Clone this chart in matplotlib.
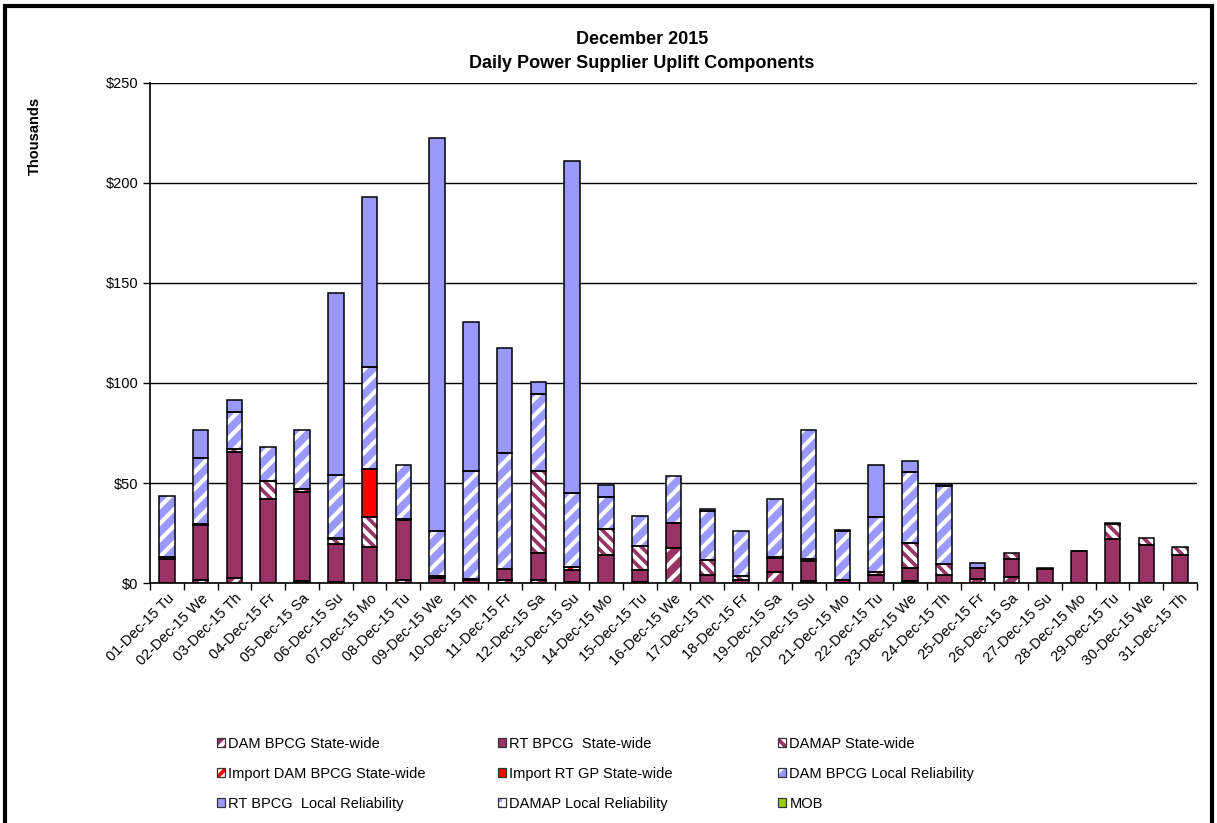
import matplotlib.pyplot as plt
import numpy as np
from matplotlib.legend_handler import HandlerTuple
from matplotlib.patches import Patch, Rectangle
from matplotlib.ticker import FuncFormatter

plt.rcParams["font.family"] = ["Liberation Sans", "DejaVu Sans"]
plt.rcParams["hatch.linewidth"] = 3.0

# 日期標籤（2015/12/01 是星期二）
WEEKDAYS = ["Tu", "We", "Th", "Fr", "Sa", "Su", "Mo"]
days = [f"{d:02d}-Dec-15 {WEEKDAYS[(d - 1) % 7]}" for d in range(1, 32)]

# 各項金額（千元）
dam_bpcg_sw = [0, 1.3, 2.5, 0, 0.8, 0.5, 0, 1.3, 0, 0, 1.7, 1.7, 0.5, 0, 0.5, 17.5,
               0, 0, 5.3, 1.2, 0, 0, 1.2, 0, 2.0, 2.8, 0, 0, 0, 0, 0]
rt_bpcg_sw = [11.8, 27.6, 63.0, 42.2, 44.8, 19.2, 18.0, 30.0, 2.3, 1.7, 5.5, 13.3, 6.2, 14.2, 6.2, 12.3,
              4.2, 1.7, 7.2, 9.6, 1.5, 4.2, 6.3, 4.2, 5.3, 9.2, 7.0, 15.8, 22.2, 18.8, 14.0]
damap_sw = [1.4, 0.6, 1.7, 8.8, 1.2, 2.2, 15.0, 0.5, 1.0, 0.3, 0, 41.2, 0, 12.8, 11.6, 0.3,
            7.5, 1.6, 0.7, 1.2, 0, 1.1, 12.5, 5.3, 0, 2.8, 0.4, 0.4, 7.2, 3.9, 4.0]
import_dam_bpcg_sw = [0, 0, 0, 0, 0, 0.5, 0, 0, 0, 0, 0, 0, 1.1, 0, 0, 0,
                      0, 0, 0, 0, 0, 0, 0, 0, 0, 0, 0, 0, 0.6, 0, 0]
import_rt_gp_sw = [0, 0, 0, 0, 0, 0, 24.0, 0, 0, 0, 0, 0, 0, 0, 0, 0,
                   0, 0, 0, 0, 0, 0, 0, 0, 0, 0, 0, 0, 0, 0, 0]
dam_bpcg_lr = [30.3, 33.0, 18.5, 16.8, 29.7, 31.6, 51.0, 27.0, 22.5, 53.8, 57.8, 38.3, 37.0, 16.2, 15.4, 23.2,
               24.5, 22.9, 28.6, 64.7, 24.3, 27.5, 35.7, 38.8, 0, 0, 0, 0, 0, 0, 0]
rt_bpcg_lr = [0, 14.0, 5.8, 0, 0, 91.0, 85.0, 0, 196.5, 74.5, 52.5, 6.0, 166.0, 6.0, 0, 0,
              1.0, 0, 0, 0, 0.7, 26.4, 5.5, 1.2, 2.9, 0, 0, 0, 0, 0, 0]
damap_lr = [0] * 31
mob = [0] * 31

SERIES = [
    ("DAM BPCG State-wide", dam_bpcg_sw, "#993366", "//"),
    ("RT BPCG  State-wide", rt_bpcg_sw, "#993366", None),
    ("DAMAP State-wide", damap_sw, "#993366", "\\\\\\"),
    ("Import DAM BPCG State-wide", import_dam_bpcg_sw, "#FF0000", "///"),
    ("Import RT GP State-wide", import_rt_gp_sw, "#FF0000", None),
    ("DAM BPCG Local Reliability", dam_bpcg_lr, "#9999FF", "//"),
    ("RT BPCG  Local Reliability", rt_bpcg_lr, "#9999FF", None),
    ("DAMAP Local Reliability", damap_lr, "#9999FF", "++"),
    ("MOB", mob, "#99CC00", None),
]

fig = plt.figure(figsize=(12.17, 8.23), dpi=100)
ax = fig.add_axes([0.1233, 0.2916, 0.8603, 0.6076])

x = np.arange(len(days))
width = 0.46
bottom = np.zeros(len(days))
handles = []
for label, vals, color, hatch in SERIES:
    vals = np.array(vals, dtype=float)
    if hatch:
        ax.bar(x, vals, width, bottom=bottom, color=color, edgecolor="white", hatch=hatch, linewidth=0, zorder=2)
    else:
        ax.bar(x, vals, width, bottom=bottom, color=color, linewidth=0, zorder=2)
    mask = vals > 0
    ax.bar(x[mask], vals[mask], width, bottom=bottom[mask], fill=False, edgecolor="black", linewidth=1.1, zorder=3)
    bottom += vals
    face = Patch(facecolor=color, edgecolor="white" if hatch else color, hatch=hatch, linewidth=0)
    frame = Patch(fill=False, edgecolor="#333333", linewidth=0.9)
    handles.append(((face, frame), label))

ax.set_xlim(-0.5, len(days) - 0.5)
ax.set_ylim(0, 250)
ax.set_yticks(range(0, 251, 50))
ax.yaxis.set_major_formatter(FuncFormatter(lambda v, _: f"${v:,.0f}"))
ax.grid(axis="y", color="black", linewidth=1.0, zorder=1)
ax.set_axisbelow(True)

ax.set_xticks(x)
ax.set_xticklabels(days, rotation=45, ha="right", rotation_mode="anchor", fontsize=10.5)
ax.tick_params(axis="x", which="major", length=0, pad=6)
ax.set_xticks(np.arange(-0.5, len(days), 1), minor=True)
ax.tick_params(axis="x", which="minor", length=5, width=1, color="black", direction="out")
ax.tick_params(axis="y", labelsize=10.5, length=5, width=1, direction="out")

for side in ("top", "right"):
    ax.spines[side].set_visible(False)
for side in ("left", "bottom"):
    ax.spines[side].set_linewidth(1.2)

fig.text(0.5276, 0.952, "December 2015", ha="center", va="center", fontsize=13, fontweight="bold")
fig.text(0.5276, 0.923, "Daily Power Supplier Uplift Components", ha="center", va="center", fontsize=13, fontweight="bold")
fig.text(0.029, 0.835, "Thousands", rotation=90, ha="center", va="center", fontsize=10.5, fontweight="bold")

# 圖例：三欄各自放，位置對齊原圖
col_x = [0.178, 0.409, 0.639]
for col in range(3):
    items = [handles[col + 3 * row] for row in range(3)]
    fig.legend([h for h, _ in items], [l for _, l in items], ncol=1,
               loc="upper left", bbox_to_anchor=(col_x[col], 0.105), frameon=False, fontsize=10.5,
               handlelength=0.55, handleheight=0.55, handletextpad=0.25,
               labelspacing=1.1, borderaxespad=0, borderpad=0,
               handler_map={tuple: HandlerTuple(ndivide=1, pad=0)})

# 外框
fig.patches.append(Rectangle((0.004, -0.02), 0.992, 1.013, transform=fig.transFigure,
                             fill=False, edgecolor="black", linewidth=3))

fig.savefig("out.png")
